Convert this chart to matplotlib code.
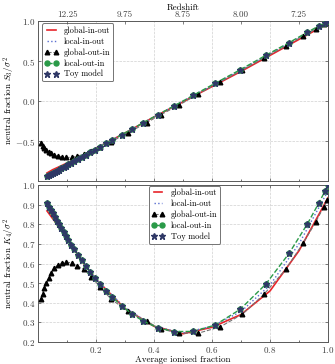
import matplotlib
matplotlib.use("Agg")
import matplotlib.pyplot as plt
from matplotlib.ticker import MultipleLocator

plt.rcParams['font.family'] = ['cmr10', 'DejaVu Serif']
plt.rcParams['mathtext.fontset'] = 'cm'
plt.rcParams['axes.formatter.use_mathtext'] = True
plt.rcParams['axes.unicode_minus'] = True

# ---- data ----
toy_x = [0.031, 0.038, 0.044, 0.051, 0.057, 0.065, 0.072, 0.080, 0.088, 0.096,
         0.105, 0.115, 0.125, 0.137, 0.150, 0.164, 0.180, 0.197, 0.215, 0.234,
         0.256, 0.289, 0.325, 0.363, 0.414, 0.470, 0.535, 0.610, 0.697, 0.785,
         0.866, 0.929, 0.969, 0.990, 1.000]
toy_s3 = [-0.94, -0.92, -0.91, -0.90, -0.89, -0.87, -0.86, -0.84, -0.82, -0.81,
          -0.79, -0.77, -0.75, -0.73, -0.70, -0.67, -0.64, -0.61, -0.57, -0.53,
          -0.49, -0.42, -0.35, -0.27, -0.17, -0.06, 0.07, 0.22, 0.39, 0.57,
          0.73, 0.86, 0.94, 0.98, 1.00]
toy_k4 = [0.910, 0.890, 0.874, 0.855, 0.839, 0.818, 0.800, 0.779, 0.759, 0.740,
          0.718, 0.695, 0.672, 0.645, 0.618, 0.589, 0.557, 0.525, 0.494, 0.462,
          0.429, 0.384, 0.342, 0.306, 0.272, 0.253, 0.254, 0.286, 0.366, 0.494,
          0.652, 0.802, 0.910, 0.970, 1.000]
# local-out-in follows the toy model closely
loi_s3 = toy_s3
loi_k4 = toy_k4

line_x = [0.031, 0.05, 0.08, 0.12, 0.16, 0.2, 0.3, 0.4, 0.5, 0.6, 0.7, 0.8, 0.9, 0.95, 1.0]
gio_s3 = [-0.90, -0.86, -0.81, -0.74, -0.67, -0.59, -0.40, -0.20, -0.01, 0.18, 0.37, 0.57, 0.77, 0.87, 0.97]
gio_k4 = [0.868, 0.83, 0.772, 0.683, 0.595, 0.52, 0.37, 0.28, 0.242, 0.275, 0.34, 0.46, 0.665, 0.80, 0.935]
lio_s3 = [-0.92, -0.88, -0.83, -0.75, -0.67, -0.59, -0.40, -0.20, 0.00, 0.19, 0.39, 0.59, 0.79, 0.89, 0.99]
lio_k4 = [0.88, 0.84, 0.775, 0.685, 0.597, 0.52, 0.375, 0.28, 0.246, 0.28, 0.355, 0.49, 0.70, 0.835, 0.97]

goi_x = [0.010, 0.016, 0.022, 0.029, 0.037, 0.046, 0.056, 0.068, 0.082, 0.098,
         0.116, 0.136, 0.159, 0.184, 0.215, 0.252, 0.310, 0.375, 0.424, 0.487,
         0.553, 0.628, 0.705, 0.779, 0.854, 0.915, 0.957, 0.986, 0.998]
goi_s3 = [-0.53, -0.56, -0.59, -0.615, -0.635, -0.655, -0.675, -0.69, -0.70, -0.705,
          -0.705, -0.69, -0.665, -0.62, -0.58, -0.51, -0.40, -0.27, -0.17, -0.05,
          0.09, 0.24, 0.39, 0.54, 0.69, 0.815, 0.90, 0.96, 0.985]
goi_k4 = [0.42, 0.445, 0.475, 0.50, 0.525, 0.553, 0.575, 0.593, 0.603, 0.607,
          0.603, 0.587, 0.57, 0.53, 0.48, 0.418, 0.358, 0.305, 0.266, 0.245,
          0.245, 0.277, 0.342, 0.443, 0.57, 0.705, 0.81, 0.89, 0.924]

z_pos = [0.1, 0.3, 0.5, 0.7, 0.9]
z_labels = ['12.25', '9.75', '8.75', '8.00', '7.25']

labels = ['global-in-out', 'local-in-out', 'global-out-in', 'local-out-in', 'Toy model']

RED = '#e8242a'
BLUE = '#5a6fd0'
GREEN = '#2a9a48'
NAVY = '#2f3866'
FS = 6.5

W, H = 335, 364
fig = plt.figure(figsize=(W / 100, H / 100), dpi=100)
ax1 = fig.add_axes([38 / W, 1 - 181 / H, 290 / W, 160 / H])
ax2 = fig.add_axes([38 / W, 1 - 342 / H, 290 / W, 157 / H], sharex=ax1)


def draw(ax, gio, lio, goi, loi, toy):
    ax.plot(line_x, gio, '-', color=RED, lw=1.2, label=labels[0], zorder=3)
    ax.plot(line_x, lio, ':', color=BLUE, lw=1.0, label=labels[1], zorder=3)
    ax.plot(goi_x, goi, '--', color='0.45', lw=0.8, marker='^', ms=3.3,
            mfc='k', mec='k', label=labels[2], zorder=4)
    ax.plot(toy_x, loi, '--', color=GREEN, lw=1.0, marker='o', ms=3.6,
            mfc=GREEN, mec=GREEN, label=labels[3], zorder=5)
    ax.plot(toy_x, toy, ls='none', marker='*', ms=4.8, color=NAVY,
            label=labels[4], zorder=6)
    ax.grid(True, ls='--', color='0.82', lw=0.5)
    ax.set_axisbelow(True)
    ax.tick_params(direction='in', labelsize=FS, length=2.5, width=0.5, pad=2,
                   top=True, right=True, color='0.3', labelcolor='0.25')
    ax.xaxis.set_minor_locator(MultipleLocator(0.1))
    ax.tick_params(which='minor', direction='in', length=1.5, width=0.4, top=True)
    for s in ax.spines.values():
        s.set_color('0.35')
        s.set_linewidth(0.7)


draw(ax1, gio_s3, lio_s3, goi_s3, loi_s3, toy_s3)
draw(ax2, gio_k4, lio_k4, goi_k4, loi_k4, toy_k4)

ax1.set_xlim(0, 1)
ax1.set_ylim(-1, 1)
ax1.set_yticks([-0.5, 0.0, 0.5, 1.0])
ax1.set_xticks([0.2, 0.4, 0.6, 0.8, 1.0])
ax1.tick_params(axis='x', labelbottom=False, labeltop=False)
ax1.set_ylabel(r'neutral fraction $S_3/\sigma^2$', fontsize=FS)
ax1.yaxis.set_label_coords(-0.072, 0.5)

ax2.set_ylim(0.2, 1.0)
ax2.set_yticks([0.2, 0.3, 0.4, 0.5, 0.6, 0.7, 0.8, 0.9, 1.0])
ax2.tick_params(axis='x', labelbottom=True, labeltop=False)
ax2.set_xlabel('Average ionised fraction', fontsize=FS, labelpad=0.5)
ax2.set_ylabel(r'neutral fraction $K_4/\sigma^2$', fontsize=FS)
ax2.yaxis.set_label_coords(-0.072, 0.5)

top = ax1.twiny()
top.set_xlim(0, 1)
top.set_xticks(z_pos)
top.set_xticklabels(z_labels)
top.tick_params(direction='in', labelsize=FS, length=2.5, width=0.5, pad=1.5,
                color='0.3', labelcolor='0.25')
top.set_xlabel('Redshift', fontsize=FS, labelpad=0.5)
for s in top.spines.values():
    s.set_visible(False)

leg_kw = dict(fontsize=6, numpoints=2, handlelength=1.6, borderpad=0.35,
              labelspacing=0.3, handletextpad=0.7, framealpha=1,
              edgecolor='0.45', fancybox=True, borderaxespad=0.3)
l1 = ax1.legend(loc='upper left', bbox_to_anchor=(0.005, 1.0), **leg_kw)
l2 = ax2.legend(loc='upper center', bbox_to_anchor=(0.505, 1.01), **leg_kw)
for l in (l1, l2):
    l.get_frame().set_linewidth(0.7)

fig.savefig('out.png', dpi=100)
